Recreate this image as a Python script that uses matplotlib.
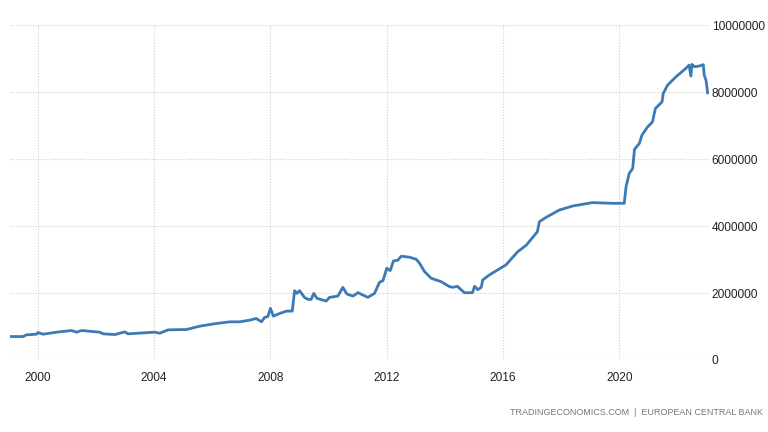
import matplotlib.pyplot as plt
import matplotlib.ticker as mticker

# ECB balance sheet (year as decimal, EUR million)
years = [1999.04, 1999.5, 1999.6, 1999.95, 2000.0, 2000.18, 2000.64, 2001.16, 2001.33, 2001.5,
         2002.13, 2002.25, 2002.65, 2002.99, 2003.1, 2003.62, 2004.02, 2004.19, 2004.48, 2005.11,
         2005.57, 2006.14, 2006.6, 2006.94, 2007.29, 2007.51, 2007.69, 2007.8, 2007.91, 2008.0,
         2008.1, 2008.32, 2008.55, 2008.75, 2008.83, 2008.91, 2009.0, 2009.17, 2009.29, 2009.4,
         2009.49, 2009.6, 2009.92, 2010.03, 2010.32, 2010.49, 2010.63, 2010.84, 2011.01, 2011.35,
         2011.58, 2011.75, 2011.87, 2012.0, 2012.12, 2012.23, 2012.38, 2012.5, 2012.78, 2013.01,
         2013.13, 2013.3, 2013.53, 2013.87, 2014.16, 2014.27, 2014.43, 2014.67, 2014.95, 2015.02,
         2015.13, 2015.25, 2015.3, 2015.53, 2016.1, 2016.5, 2016.8, 2017.18, 2017.25, 2017.48,
         2017.94, 2018.4, 2019.07, 2019.76, 2020.17, 2020.23, 2020.34, 2020.46, 2020.52, 2020.69,
         2020.78, 2020.97, 2021.14, 2021.24, 2021.47, 2021.51, 2021.66, 2021.95, 2022.29, 2022.4,
         2022.46, 2022.5, 2022.58, 2022.75, 2022.89, 2022.92, 2022.98, 2023.04]
values = [700000, 700000, 750000, 770000, 820000, 770000, 830000, 880000, 830000, 880000,
          830000, 780000, 760000, 840000, 780000, 810000, 830000, 800000, 900000, 910000,
          1010000, 1090000, 1140000, 1140000, 1190000, 1240000, 1140000, 1270000, 1300000, 1540000,
          1310000, 1390000, 1460000, 1460000, 2070000, 1990000, 2070000, 1870000, 1810000, 1810000,
          1990000, 1840000, 1760000, 1870000, 1910000, 2170000, 1970000, 1910000, 2010000, 1870000,
          1990000, 2320000, 2370000, 2740000, 2670000, 2960000, 2980000, 3100000, 3070000, 3010000,
          2890000, 2640000, 2440000, 2340000, 2190000, 2170000, 2200000, 2010000, 2010000, 2200000,
          2100000, 2170000, 2390000, 2540000, 2840000, 3230000, 3430000, 3830000, 4130000, 4260000,
          4480000, 4600000, 4700000, 4680000, 4680000, 5170000, 5570000, 5720000, 6290000, 6470000,
          6720000, 6960000, 7110000, 7510000, 7710000, 7960000, 8210000, 8460000, 8710000, 8810000,
          8480000, 8830000, 8760000, 8780000, 8820000, 8510000, 8360000, 7980000]

xticks = [2000, 2004, 2008, 2012, 2016, 2020]
yticks = [0, 2000000, 4000000, 6000000, 8000000, 10000000]

plt.rcParams['font.family'] = ['Liberation Sans', 'DejaVu Sans']

fig = plt.figure(figsize=(7.68, 4.32), dpi=100)
ax = fig.add_axes([0.013, 0.1667, 0.91, 0.775])

ax.plot(years, values, color='#3d7ab5', linewidth=2.0, solid_joinstyle='round')

ax.set_xlim(1999.04, 2023.08)
ax.set_ylim(0, 10000000)
ax.set_xticks(xticks)
ax.set_yticks(yticks)
ax.yaxis.set_major_formatter(mticker.FuncFormatter(lambda v, p: '%d' % v))
ax.yaxis.tick_right()

ax.grid(True, color='#d0d0d0', linestyle=(0, (1, 1.5)), linewidth=0.8)
ax.set_axisbelow(True)
for s in ax.spines.values():
    s.set_visible(False)
ax.tick_params(axis='both', length=0, labelsize=8.6, labelcolor='#222222')
ax.tick_params(axis='x', pad=9)
ax.tick_params(axis='y', pad=2)

fig.text(0.994, 0.046, 'TRADINGECONOMICS.COM  |  EUROPEAN CENTRAL BANK',
         ha='right', va='center', fontsize=6.5, color='#777777')

fig.savefig('out.png', dpi=100)
